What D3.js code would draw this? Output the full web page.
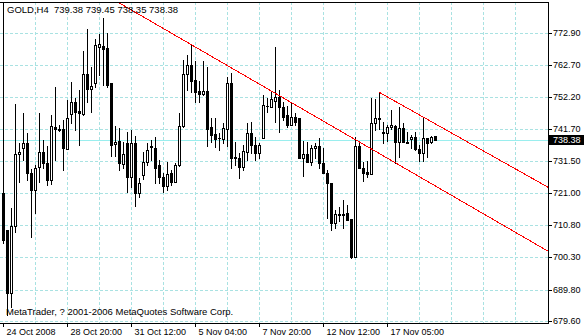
<!DOCTYPE html>
<html>
<head>
<meta charset="utf-8">
<script src="https://cdn.jsdelivr.net/npm/d3@7"></script>
<style>
  body { margin: 0; background: #fff; }
  svg { display: block; }
  text { font-family: "Liberation Sans", Arial, sans-serif; font-size: 9px; white-space: pre; }
</style>
</head>
<body>
<svg id="chart" width="584" height="336"></svg>
<script>
// GOLD H4 bars, one value per bar, left to right
var opens = [721.07, 709.08, 688.67, 710.38, 733.70, 735.65, 737.27, 727.55, 722.04, 729.49,
  734.35, 730.79, 725.28, 742.45, 741.80, 741.80, 735.32, 746.66, 750.55, 747.64,
  746.66, 759.62, 754.76, 756.71, 768.37, 768.70, 768.05, 756.71, 736.94, 737.92,
  730.46, 737.27, 726.25, 737.27, 721.07, 726.90, 731.11, 735.97, 735.65, 730.14,
  726.25, 723.34, 727.55, 724.63, 730.14, 742.78, 759.62, 762.54, 757.68, 754.12,
  753.14, 754.12, 742.45, 740.18, 738.89, 738.56, 741.80, 756.71, 732.73, 732.41,
  729.49, 734.35, 740.51, 736.62, 734.03, 738.89, 749.26, 748.93, 750.88, 752.17,
  748.93, 746.34, 743.10, 745.69, 745.37, 732.41, 733.70, 731.11, 735.65, 736.30,
  730.79, 727.55, 724.31, 711.35, 714.26, 714.26, 714.59, 712.64, 700.33, 736.30,
  729.17, 727.87, 727.22, 743.75, 745.37, 740.83, 740.51, 742.45, 742.78, 737.59,
  742.13, 737.59, 738.56, 739.21, 735.32, 734.03, 738.89, 737.59, 739.38]

var highs = [782.90, 709.08, 716.21, 749.90, 737.27, 746.99, 740.51, 728.84, 730.14, 746.99,
  738.24, 736.30, 746.34, 755.41, 743.10, 744.72, 751.20, 757.03, 751.85, 754.44,
  767.08, 774.20, 761.89, 770.96, 772.58, 777.77, 772.91, 756.71, 742.78, 742.13,
  737.59, 740.83, 741.48, 739.54, 725.93, 734.35, 737.27, 738.24, 739.21, 731.76,
  727.55, 731.11, 728.52, 730.79, 746.99, 764.16, 765.78, 769.02, 763.84, 757.36,
  763.84, 761.89, 745.37, 745.37, 740.51, 743.75, 758.65, 759.95, 737.59, 734.03,
  736.62, 743.75, 744.07, 739.21, 737.27, 752.82, 751.85, 753.79, 768.37, 754.44,
  750.55, 749.26, 750.23, 746.99, 745.37, 737.92, 737.59, 736.62, 737.27, 738.89,
  735.65, 728.52, 724.31, 715.56, 716.53, 718.80, 717.18, 712.64, 739.21, 737.27,
  731.11, 731.44, 751.85, 751.52, 753.79, 744.07, 743.10, 747.96, 743.10, 748.93,
  743.75, 740.83, 739.86, 740.83, 736.62, 745.69, 738.89, 739.54, 739.45]

var lows = [704.87, 681.54, 684.13, 708.43, 724.63, 731.76, 725.28, 706.81, 714.59, 724.63,
  729.17, 723.66, 723.98, 731.76, 741.16, 728.52, 735.32, 743.75, 741.48, 736.62,
  746.34, 750.55, 747.31, 755.41, 759.30, 756.06, 755.41, 733.06, 733.06, 728.52,
  729.17, 721.39, 723.01, 716.86, 719.77, 725.60, 730.14, 731.76, 724.31, 724.31,
  721.39, 722.04, 723.66, 724.63, 729.82, 742.45, 754.44, 753.79, 750.55, 750.55,
  752.82, 736.30, 737.59, 735.97, 735.00, 737.27, 736.30, 729.17, 730.14, 725.93,
  728.52, 731.76, 734.03, 731.76, 732.41, 738.89, 747.31, 748.93, 744.07, 740.83,
  744.72, 742.45, 743.10, 743.10, 732.41, 726.58, 731.11, 730.14, 732.41, 729.17,
  727.55, 712.97, 709.08, 709.73, 711.99, 709.73, 712.32, 700.01, 700.33, 729.17,
  724.96, 726.25, 727.22, 741.48, 741.80, 737.27, 737.92, 741.80, 730.79, 732.73,
  737.59, 737.27, 735.65, 735.00, 731.44, 731.44, 732.73, 737.27, 738.35]

var closes = [705.84, 688.67, 710.38, 733.70, 734.35, 737.27, 727.55, 722.04, 729.17, 734.35,
  730.79, 725.28, 742.78, 741.80, 741.60, 735.65, 745.37, 750.55, 747.31, 746.99,
  759.62, 754.76, 755.74, 769.02, 769.34, 767.72, 756.06, 736.62, 737.59, 730.79,
  733.70, 726.25, 737.27, 721.07, 724.31, 731.11, 735.00, 736.30, 729.17, 726.25,
  723.34, 727.22, 724.63, 730.14, 742.78, 759.62, 762.54, 757.36, 753.79, 753.14,
  754.12, 741.80, 739.86, 738.56, 738.73, 742.13, 756.71, 732.41, 732.41, 729.49,
  734.68, 740.51, 736.62, 734.03, 736.62, 749.58, 749.10, 751.52, 752.17, 748.93,
  745.69, 743.10, 745.69, 744.07, 732.41, 733.70, 731.11, 735.65, 736.30, 730.79,
  727.55, 724.31, 711.35, 714.26, 714.10, 714.10, 712.32, 700.33, 736.30, 729.17,
  727.55, 727.22, 743.75, 745.37, 745.20, 740.51, 742.45, 743.10, 737.59, 742.13,
  737.59, 737.43, 739.21, 735.32, 734.03, 738.89, 737.27, 739.21, 738.38]

var priceTicks = [772.90, 762.70, 752.20, 741.70, 731.50, 721.00, 710.80, 700.30, 689.80, 679.60]
var timeTickBars = [0, 16, 32, 48, 64, 80, 96]
var timeTickLabels = ["24 Oct 2008", "28 Oct 20:00", "31 Oct 12:00", "5 Nov 04:00",
  "7 Nov 20:00", "12 Nov 12:00", "17 Nov 05:00"]
var gridBars = d3.range(8, 136, 8)

// trend lines as [bar, price] pairs
var trendLine = [[28.75, 782.95], [136.25, 702.28]]
var channelLine = [[94, 753.79], [136.25, 723.01]]

var symbol = "GOLD,H4"
var copyright = "MetaTrader, ? 2001-2006 MetaQuotes Software Corp."

var svg = d3.select("#chart")
var plotRight = 548, plotTop = 2, plotBottom = 323

var x = d3.scaleLinear().domain([0, 136.25]).rangeRound([3, plotRight])
var y = d3.scaleLinear().domain([679.6, 782.95]).rangeRound([321, plotTop])

svg.append("clipPath").attr("id", "plot")
  .append("rect")
  .attr("x", 0).attr("y", plotTop)
  .attr("width", plotRight).attr("height", plotBottom - plotTop)

// grid
var grid = svg.append("g")
  .attr("stroke", "#a9e2e2")
  .attr("stroke-dasharray", "3,2")
  .attr("shape-rendering", "crispEdges")

grid.selectAll(".h").data(priceTicks).enter().append("line")
  .attr("x1", 0).attr("x2", plotRight)
  .attr("y1", d => y(d) + 0.5).attr("y2", d => y(d) + 0.5)

grid.selectAll(".v").data(gridBars).enter().append("line")
  .attr("x1", d => x(d) + 0.5).attr("x2", d => x(d) + 0.5)
  .attr("y1", plotTop).attr("y2", plotBottom)

// bid line
var last = opens.length - 1
svg.append("line")
  .attr("x1", 0).attr("x2", plotRight)
  .attr("y1", y(closes[last]) + 0.5).attr("y2", y(closes[last]) + 0.5)
  .attr("stroke", "#9aeeee")
  .attr("shape-rendering", "crispEdges")

// candles
var bars = d3.range(opens.length).map(i => ({i: i, o: opens[i], h: highs[i], l: lows[i], c: closes[i]}))
var g = svg.append("g").attr("clip-path", "url(#plot)").attr("shape-rendering", "crispEdges")

g.selectAll(".wick").data(bars).enter().append("rect")
  .attr("x", d => x(d.i))
  .attr("y", d => y(d.h))
  .attr("width", 1)
  .attr("height", d => y(d.l) - y(d.h) + 1)
  .attr("fill", "#000")

g.selectAll(".body").data(bars).enter().append("rect")
  .each(function(d) {
    var top = Math.min(y(d.o), y(d.c)), bot = Math.max(y(d.o), y(d.c))
    var el = d3.select(this)
    if (d.c > d.o && bot - top >= 2) {
      el.attr("x", x(d.i) - 0.5).attr("y", top + 0.5)
        .attr("width", 2).attr("height", bot - top)
        .attr("fill", "#fff").attr("stroke", "#000")
    } else {
      el.attr("x", x(d.i) - 1).attr("y", top)
        .attr("width", 3).attr("height", bot - top + 1)
        .attr("fill", "#000")
    }
  })

// red trend lines
var line = d3.line().x(d => x(d[0]) + 0.5).y(d => y(d[1]) + 0.5)
svg.append("g").attr("clip-path", "url(#plot)")
  .selectAll("path").data([trendLine, channelLine]).enter().append("path")
  .attr("d", line)
  .attr("fill", "none")
  .attr("stroke", "#ff0000")
  .attr("stroke-width", 1)
  .attr("shape-rendering", "crispEdges")

// frame
svg.append("path")
  .attr("d", "M0," + (plotTop + 0.5) + "H" + (plotRight + 0.5) + "V" + (plotBottom + 0.5) + "H0")
  .attr("fill", "none").attr("stroke", "#000")
  .attr("shape-rendering", "crispEdges")

// price axis
var yAxis = svg.append("g")
  .attr("transform", "translate(" + plotRight + ",0)")
  .call(d3.axisRight(y).tickValues(priceTicks).tickFormat(d3.format(".2f")).tickSize(4).tickSizeOuter(0))
yAxis.select(".domain").remove()
yAxis.selectAll("text").attr("x", 5).attr("fill", "#000")
  .style("font-family", "Liberation Sans, Arial, sans-serif").style("font-size", "9px")

// time axis
var xAxis = svg.append("g")
  .attr("transform", "translate(0," + plotBottom + ")")
  .call(d3.axisBottom(x).tickValues(timeTickBars).tickFormat((d, i) => timeTickLabels[i]).tickSize(4).tickSizeOuter(0))
xAxis.select(".domain").remove()
xAxis.selectAll("text").attr("text-anchor", "start").attr("x", 3).attr("y", 6).attr("fill", "#000")
  .style("font-family", "Liberation Sans, Arial, sans-serif").style("font-size", "9px")

// current price label
var by = y(closes[last])
svg.append("rect")
  .attr("x", 549).attr("y", by - 5).attr("width", 35).attr("height", 10)
  .attr("fill", "#000")
svg.append("text")
  .attr("x", 553).attr("y", by).attr("dy", "0.35em")
  .attr("fill", "#fff")
  .text(closes[last].toFixed(2))

// header and copyright
svg.append("text")
  .attr("x", 7).attr("y", 13)
  .style("font-size", "9.5px")
  .text(symbol + "  " + [opens[last], highs[last], lows[last], closes[last]].map(v => v.toFixed(2)).join(" "))

svg.append("text")
  .attr("x", 6).attr("y", 315)
  .style("font-size", "9.5px")
  .text(copyright)
</script>
</body>
</html>
